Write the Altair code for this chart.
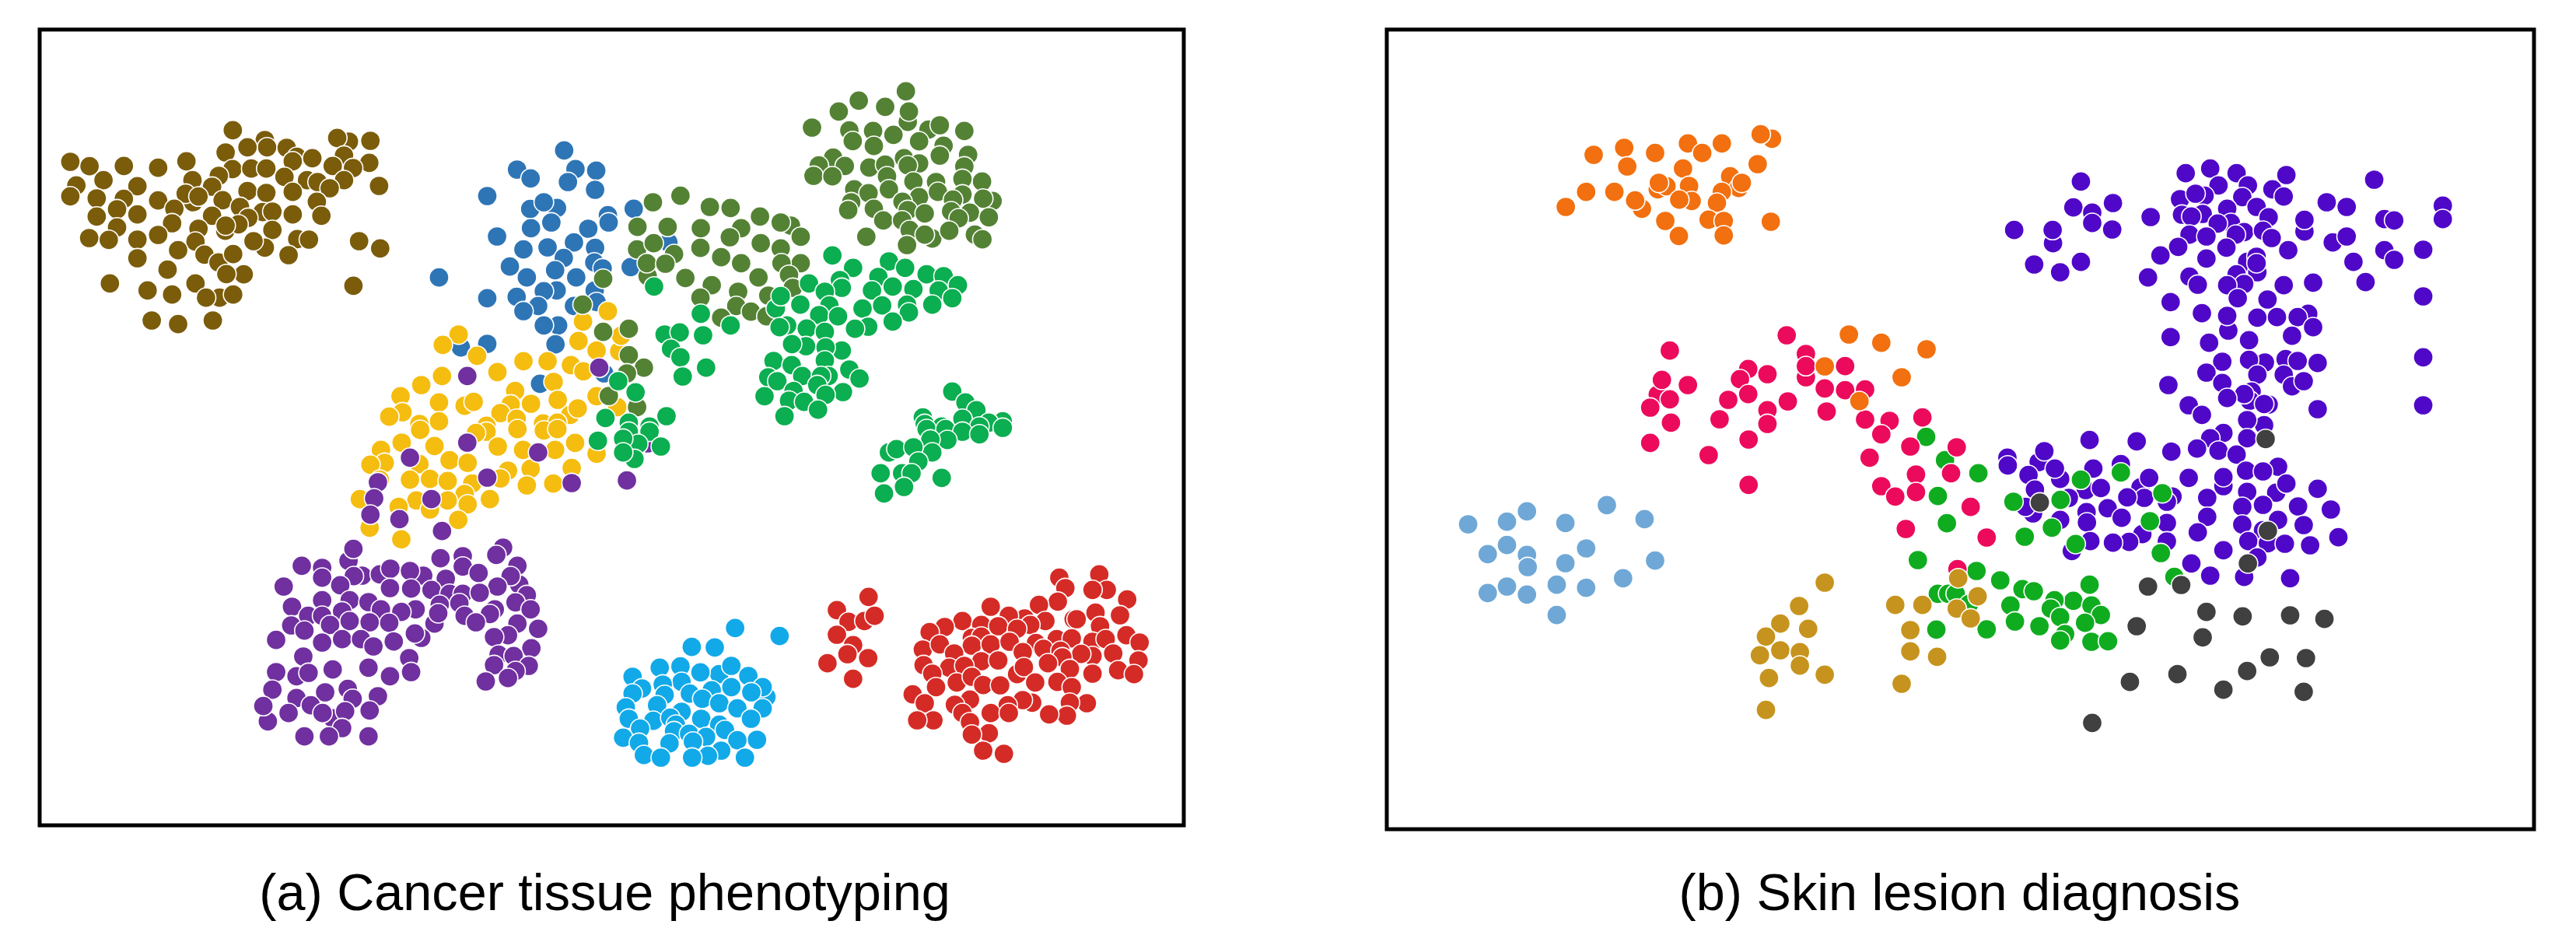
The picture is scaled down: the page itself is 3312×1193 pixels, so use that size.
import altair as alt
import pandas as pd

SX, SY = 1568 / 760, 3.0
A1, A2, A3, A4 = (40, 30), (760, 30), (40, 550), (760, 550)
B1, B2, B3, B4 = (1780, 30), (2500, 30), (1780, 550), (2500, 550)

brown = [(535,412),(620,450),(626,478),(574,478),(516,498),(678,480),(843,456),(812,442),(900,453),(705,515),(694,532),(746,520),(830,510),(897,538),(800,550),(854,558),(104,534),(155,551),(246,550),(337,557),(412,532),(534,562),(584,560),(624,560),(498,588),(672,592),(192,605),(120,625),(104,667),(282,628),(428,605),(480,630),(732,605),(760,612),(830,605),(792,636),(923,627),(574,647),(624,654),(694,650),(758,688),(174,675),(246,677),(337,683),(430,690),(410,657),(444,668),(508,682),(380,715),(228,717),(282,737),(174,745),(554,708),(480,742),(770,742),(694,737),(614,728),(640,726),(374,771),(576,750),(515,800),(550,775),(516,780),(228,787),(444,792),(640,797),(206,835),(154,828),(282,834),(337,816),(436,842),(620,865),(590,840),(706,832),(737,834),(870,840),(926,868),(390,875),(460,892),(683,894),(497,922),(536,890),(282,906),(362,950),(564,968),(518,967),(209,1003),(436,1003),(309,1030),(374,1046),(855,1012),(500,1058),(536,1046),(464,1058),(320,1146),(390,1160),(482,1146)]
blue_a = [(1414,490),(1289,564),(1325,598),(1444,562),(1499,568),(1424,612),(1496,642),(1210,666),(1324,716),(1395,712),(1360,690),(1530,740),(1532,768),(1380,768),(1326,790),(1478,792),(1236,822),(1440,845),(1496,866),(1306,872),(1370,864),(1413,905),(1494,922),(1516,945),(1270,938),(1390,952),(1315,980),(1446,980),(1082,980),(1394,1030),(1360,1033),(1495,1030),(1288,1055),(1210,1060),(1500,1075),(1345,1090),(1306,1110),(1440,1090),(1398,1165),(1360,1165),(1391,1238),(1210,1236),(1140,1250),(1350,1390),(1520,1350)]
blue_a2 = [(113,715),(205,845),(105,940)]
yellow_1 = [(1530,1110),(1464,1150),(1134,1200),(1092,1240),(1452,1225),(1500,1262),(1183,1282),(1306,1303),(1370,1303),(1560,1265),(1432,1318),(1465,1342),(1237,1345),(1090,1360),(1035,1395),(1386,1383),(1284,1418),(980,1438),(1082,1462),(1150,1475),(1174,1460),(1272,1470),(1326,1467),(1397,1452),(1500,1438),(1430,1510),(1450,1485),(985,1500),(950,1517),(1245,1503),(1288,1525),(1082,1535),(1030,1545),(1208,1552),(1358,1543),(1396,1540),(1565,1205),(1555,1480)]
yellow_3 = [(1032,8),(1208,15),(1290,5),(1360,10),(1396,5),(1180,20),(983,57),(928,85),(1070,70),(1238,72),(1443,58),(1305,85),(1390,85),(1500,100),(938,135),(900,142),(1110,125),(1158,135),(1265,165),(1030,140),(1325,158),(1434,155),(1005,200),(1058,197),(1105,205),(1170,215),(1245,195),(1315,222),(1385,215),(1150,255),(1217,275),(1022,280),(1105,280),(975,305),(1058,315),(1158,295),(872,275),(1133,355),(898,385),(982,430),(925,200)]
purple_1 = [(1157,1360),(1507,1328)]
purple_3 = [(1157,57),(1345,95),(1005,115),(1210,192),(1434,213),(920,210),(910,272),(1062,275),(900,335),(977,352),(1090,398),(842,513),(855,467),(1252,462),(1234,490),(718,532),(772,540),(772,578),(878,570),(856,572),(925,565),(953,543),(1040,570),(1005,552),(1086,503),(1145,495),(1145,535),(1187,560),(1100,582),(1290,532),(1295,605),(1272,572),(1237,612),(670,612),(820,607),(952,618),(1008,620),(1062,625),(1110,640),(1145,640),(1190,636),(845,665),(772,665),(895,672),(692,690),(1084,682),(1136,676),(1315,645),(1285,673),(1325,700),(1020,700),(982,710),(735,725),(772,725),(825,708),(928,700),(1150,725),(1230,700),(1217,718),(1180,750),(1070,755),(1080,715),(690,762),(725,782),(793,760),(845,745),(898,750),(950,752),(1290,755),(1345,775),(650,818),(772,828),(825,815),(875,815),(908,843),(962,824),(1035,810),(1018,793),(1265,800),(1228,807),(1327,850),(1240,875),(1280,880),(722,882),(1003,888),(650,942),(704,958),(736,945),(800,932),(895,925),(1008,942),(952,958),(1320,918),(1285,938),(1228,915),(1206,978),(1265,965),(640,1010),(840,1007),(780,1020),(920,1035),(853,1045),(704,1042),(742,1070),(628,1132),(616,1073),(683,1100),(800,1120),(773,1100),(833,1093),(898,1090),(825,1158),(725,1190),(790,1190),(895,1190)]
purple_4 = [(95,203),(150,60)]
olive_2 = [(835,262),(710,298),(780,322),(657,340),(840,380),(843,340),(586,402),(990,415),(895,410),(925,393),(685,413),(748,415),(694,454),(802,430),(750,473),(870,455),(935,472),(1000,507),(642,518),(604,548),(673,550),(830,520),(870,540),(925,510),(738,556),(780,545),(840,548),(990,552),(590,588),(640,590),(785,590),(855,610),(915,612),(1037,610),(985,600),(698,640),(790,640),(736,655),(870,670),(920,650),(1065,685),(1040,676),(826,688),(985,660),(960,680),(690,690),(750,715),(682,720),(840,720),(885,733),(955,725),(1005,730),(975,752),(1055,748),(775,760),(825,760),(845,797),(905,830),(885,815),(950,800),(1018,815),(1038,833),(730,823),(838,855),(237,665),(164,690),(315,708),(370,712),(448,745),(530,780),(503,768),(556,823),(123,785),(203,785),(291,790),(398,790),(368,825),(450,848),(122,872),(166,848),(503,868),(220,890),(290,866),(345,902),(556,925),(505,925),(150,975),(148,925),(197,927),(398,925),(525,970),(250,982),(444,980),(320,1010),(535,1020),(390,1035),(470,1050),(290,1058),(385,1090),(424,1112),(465,1130),(345,1135),(100,1178),(32,1190),(100,1280),(140,1328),(95,1350),(47,1437),(122,1480),(32,985)]
olive_1 = [(1463,1085)]
green_2 = [(640,895),(790,918),(695,943),(833,943),(890,968),(935,975),(973,1010),(762,978),(578,1003),(660,990),(665,1020),(620,1035),(745,1030),(800,1015),(855,1025),(922,1030),(490,1100),(503,1052),(958,1060),(555,1085),(632,1088),(720,1100),(772,1088),(838,1085),(843,1115),(905,1085),(605,1125),(655,1130),(800,1150),(520,1165),(500,1172),(735,1170),(700,1178),(572,1177),(620,1190),(370,1165),(291,1120),(195,1200),(235,1192),(297,1203),(212,1255),(570,1245),(533,1237),(665,1262),(622,1250),(237,1288),(484,1302),(620,1300),(532,1318),(685,1335),(305,1328),(560,1360),(712,1370),(243,1362),(470,1365),(630,1360),(610,1360),(494,1380),(600,1395),(537,1418),(668,1422),(460,1438),(622,1433),(525,1455),(565,1460),(602,1490),(513,1515),(167,1015),(72,1380),(118,1423),(38,1522),(100,1540),(200,1515),(155,1555),(958,1420),(993,1462),(1022,1492),(1092,1535),(880,1520),(885,1545),(985,1525),(930,1555),(1055,1540),(1030,1555)]
green_4 = [(890,5),(940,5),(985,15),(1030,25),(1092,0),(945,47),(900,45),(905,95),(790,95),(810,82),(855,75),(868,130),(825,175),(850,175),(768,175),(930,193),(830,228),(777,253),(18,50),(100,15),(155,15),(125,62),(85,42),(185,72),(115,120),(85,95)]
cyan = [(382,772),(500,803),(267,845),(328,847),(182,925),(237,920),(340,950),(372,918),(110,960),(290,943),(417,957),(240,980),(190,990),(135,1005),(465,1038),(455,1000),(372,1000),(425,1020),(110,1025),(195,1030),(262,1025),(320,1012),(295,1045),(175,1070),(92,1078),(340,1062),(388,1082),(455,1082),(240,1095),(100,1122),(165,1130),(210,1118),(292,1122),(424,1122),(130,1160),(225,1145),(340,1145),(355,1165),(220,1170),(85,1195),(260,1180),(305,1192),(388,1205),(440,1203),(127,1215),(208,1217),(270,1210),(140,1262),(345,1245),(185,1272),(310,1265),(268,1272),(408,1272)]
red = [(1242,578),(1258,618),(1348,565),(1368,625),(1330,625),(1422,662),(1238,670),(1188,683),(1060,690),(1150,735),(1108,725),(1205,745),(1280,738),(1288,738),(1338,713),(1403,723),(985,745),(938,768),(1035,760),(1080,765),(1165,760),(1130,775),(1350,765),(898,788),(1420,800),(1010,810),(1035,805),(1235,815),(1275,812),(1330,825),(1365,815),(1455,828),(880,855),(925,835),(1010,840),(1060,835),(1110,825),(1180,830),(1200,852),(1145,865),(1245,860),(1330,880),(1300,872),(1385,870),(963,870),(1035,900),(1080,897),(882,915),(950,925),(990,918),(1452,897),(1130,950),(1148,923),(1250,885),(1212,908),(1270,930),(1398,935),(1440,950),(905,948),(1330,948),(970,982),(1010,960),(1040,992),(1085,993),(1178,982),(1237,980),(1275,1000),(915,1000),(853,1028),(1005,1048),(1170,1060),(1145,1050),(1315,1062),(1270,1060),(885,1062),(965,1068),(1105,1070),(1060,1100),(985,1100),(1108,1100),(1262,1110),(1215,1105),(908,1128),(865,1128),(1005,1135),(1055,1178),(1010,1183),(1040,1245),(1095,1257),(736,652),(652,703),(683,748),(725,745),(752,725),(652,798),(695,838),(680,873),(735,888),(627,908),(695,968)]

violet_2 = [(705,560),(640,578),(775,578),(907,585),(727,625),(805,625),(870,640),(362,610),(1140,603),(625,678),(690,665),(666,657),(790,670),(900,668),(447,693),(342,710),(1014,690),(1067,708),(1322,703),(828,708),(750,715),(630,738),(685,735),(655,745),(860,748),(547,747),(392,730),(392,770),(445,795),(185,797),(1322,755),(1167,755),(1193,760),(955,803),(955,758),(760,770),(725,772),(288,848),(287,797),(650,815),(695,822),(795,805),(773,815),(845,800),(868,828),(1030,845),(1067,822),(620,862),(748,865),(1270,873),(912,875),(1167,875),(1193,912),(573,895),(695,907),(803,920),(828,900),(362,920),(238,930),(307,960),(1085,920),(830,960),(828,925),(540,980),(775,968),(650,977),(672,1008),(978,1000),(1117,998),(795,1005),(750,1010),(900,1010),(778,1060),(857,1065),(600,1075),(1270,1053),(683,1118),(753,1185),(750,1128),(965,1120),(830,1135),(882,1133),(937,1133),(978,1172),(600,1210),(922,1205),(702,1232),(808,1222),(905,1295),(737,1305),(850,1308),(808,1298),(937,1302),(990,1310),(1270,1288),(695,1347),(830,1355),(900,1355),(922,1400),(953,1380),(737,1387),(594,1395),(815,1420),(810,1455),(795,1430),(750,1445),(860,1470),(848,1468),(648,1473),(683,1510),(990,1488),(1270,1473),(848,1550),(803,1530)]
violet_4 = [(385,47),(510,52),(602,92),(740,20),(705,40),(803,40),(670,80),(727,88),(775,103),(167,115),(168,145),(250,132),(265,90),(307,197),(293,157),(395,157),(223,182),(468,140),(885,150),(800,165),(845,168),(520,230),(543,193),(648,193),(740,225),(740,190),(880,250),(907,215),(990,235),(240,238),(375,240),(415,232),(803,247),(530,270),(485,268),(697,270),(605,265),(590,285),(330,270),(790,305),(845,297),(938,303),(1025,315),(433,310),(235,330),(215,305),(377,325),(470,347),(378,365),(307,355),(697,343),(590,367),(885,355),(790,373),(953,375),(672,403),(845,395),(525,410),(1045,422),(387,437),(490,440),(447,443),(590,438),(806,437),(858,445),(903,447),(970,453),(338,475),(740,472),(830,500),(655,523),(705,570),(795,575),(917,580)]
leaf_3 = [(1437,35),(1487,125),(1468,263),(1492,368),(1415,510),(1468,640),(1513,642),(1464,778)]
leaf_4 = [(90,175),(85,552),(148,588),(183,285),(213,420),(285,385),(308,278),(362,200),(468,172),(578,252),(545,360),(348,448),(574,483),(610,575),(385,605),(207,622),(237,630),(175,685),(342,667),(292,665),(282,697),(307,730),(390,685),(415,722),(187,747),(252,765),(373,752),(112,777),(320,795),(307,820),(390,825),(434,823),(10,640),(30,640),(65,680)]
rose_1 = [(1067,1203),(757,1262),(1118,1275),(1118,1365),(1118,1322),(1222,1322),(965,1333),(1016,1353),(943,1372),(725,1432),(736,1375),(805,1395),(1168,1408),(1275,1412),(1222,1415),(757,1450),(965,1430),(912,1452),(1070,1458),(705,1482),(1016,1492),(1173,1497),(1427,1520),(889,1527),(1275,1528),(1340,1533),(1016,1545),(760,1540)]
rose_3 = [(1318,25),(705,58),(966,45),(1395,72),(1518,75),(860,105),(1287,115),(1410,180),(1503,175),(966,220),(1410,248),(1318,225),(1355,265),(1555,305),(1383,390),(1520,545)]
rose_4 = [(112,423)]
tangerine = [(1028,445),(998,428),(555,507),(636,480),(718,500),(805,463),(843,500),(895,463),(644,552),(990,543),(792,560),(725,640),(748,628),(728,615),(808,627),(917,590),(940,635),(948,615),(535,650),(610,650),(683,715),(665,683),(815,685),(782,680),(895,650),(882,692),(481,708),(745,762),(860,757),(900,762),(1025,765),(781,820),(900,818),(1232,1200),(1318,1232),(1438,1257),(1168,1323),(1372,1365),(1260,1457)]
sky = [(222,372),(325,362),(378,322),(480,367),(590,298),(690,352),(325,452),(274,487),(378,490),(380,537),(535,465),(480,522),(718,512),(325,612),(274,637),(378,643),(457,605),(535,617),(633,580),(457,722)]
gold_3 = [(1168,597),(1100,687),(1050,755),(1124,775),(1012,805),(1050,858),(1102,865),(996,877),(1102,917),(1168,952),(1020,965),(1012,1088),(1355,683),(1427,683),(1395,780),(1395,862),(1466,883),(1372,987),(1522,580),(1518,697),(1555,735)]
gold_4 = [(88,650)]
grey_4 = [(852,43),(253,288),(858,397),(805,523),(540,612),(628,606),(695,710),(791,727),(917,723),(1008,737),(510,765),(685,808),(863,885),(959,888),(803,938),(618,950),(492,980),(740,1010),(953,1018),(392,1138)]

LEFT = [
    ("brown", "#7A5C0B", [(A1, brown)]),
    ("blue", "#2E75B6", [(A1, blue_a), (A2, blue_a2)]),
    ("yellow", "#F5BD10", [(A1, yellow_1), (A3, yellow_3)]),
    ("purple", "#7030A0", [(A1, purple_1), (A3, purple_3), (A4, purple_4)]),
    ("olive", "#548235", [(A2, olive_2), (A1, olive_1)]),
    ("green", "#0BAE50", [(A2, green_2), (A4, green_4)]),
    ("cyan", "#12A9E8", [(A4, cyan)]),
    ("red", "#D52B26", [(A4, red)]),
]
RIGHT = [
    ("violet", "#5008C8", [(B2, violet_2), (B4, violet_4)]),
    ("leaf", "#10AC20", [(B3, leaf_3), (B4, leaf_4)]),
    ("rose", "#EC0A5C", [(B1, rose_1), (B3, rose_3), (B4, rose_4)]),
    ("tangerine", "#F2700F", [(B1, tangerine)]),
    ("sky", "#6FA8D6", [(B3, sky)]),
    ("gold", "#C6941E", [(B3, gold_3), (B4, gold_4)]),
    ("grey", "#404040", [(B4, grey_4)]),
]


def table(groups):
    rows = []
    for name, _, parts in groups:
        for (x0, y0), pts in parts:
            rows += [{"cls": name, "x": x0 + cx / SX, "y": y0 + cy / SY} for cx, cy in pts]
    return pd.DataFrame(rows)


def panel(groups, xdom, ydom, title, dx, offset):
    w, h = xdom[1] - xdom[0], ydom[1] - ydom[0]
    return alt.Chart(table(groups)).mark_circle(
        size=640, opacity=1, stroke="#FFFFFF", strokeWidth=1.6
    ).encode(
        x=alt.X("x:Q", axis=None, scale=alt.Scale(domain=list(xdom))),
        y=alt.Y("y:Q", axis=None, scale=alt.Scale(domain=[ydom[1], ydom[0]])),
        color=alt.Color("cls:N", legend=None, scale=alt.Scale(
            domain=[g[0] for g in groups], range=[g[1] for g in groups])),
    ).properties(
        width=w, height=h,
        title=alt.TitleParams(title, orient="bottom", anchor="middle", dx=dx, offset=offset,
                              font="Liberation Sans", fontSize=66.6, fontWeight="normal", color="#000000"),
    )


chart = alt.hconcat(
    panel(LEFT, (51, 1522), (38, 1061), "(a) Cancer tissue phenotyping", -9, 56),
    panel(RIGHT, (1783, 3258), (38, 1066), "(b) Skin lesion diagnosis", -1, 51),
    spacing=255,
).resolve_scale(color="independent").configure_view(stroke="#000000", strokeWidth=5, fill="#FFFFFF").properties(
    padding={"left": 40, "top": 27, "right": 0, "bottom": 0}, background="#FFFFFF"
)

chart.save("out.html", embed_options={"renderer": "svg", "actions": False})
